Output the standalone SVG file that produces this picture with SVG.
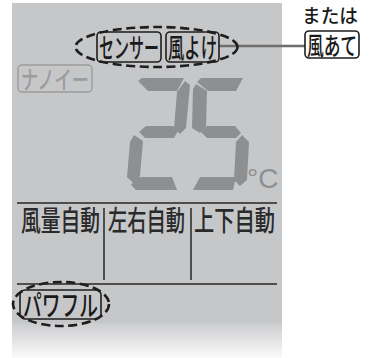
<svg xmlns="http://www.w3.org/2000/svg" width="370" height="358" viewBox="0 0 370 358">
<defs>
<linearGradient id="fade" x1="0" y1="0" x2="0" y2="1">
<stop offset="0" stop-color="#cbccce"/>
<stop offset="1" stop-color="#fbfbfb"/>
</linearGradient>
</defs>
<style>
.jp{font-family:"Noto Sans CJK JP","Noto Sans",sans-serif;font-weight:500;}
.box{fill:none;stroke:#1e1e1e;stroke-width:1.6;}
.lbl{fill:#1a1a1a;}
.dim{fill:none;stroke:#9c9c9c;stroke-width:1.4;}
.dimt{fill:#9c9c9c;}
.dash{fill:none;stroke:#1e1e1e;stroke-width:2.6;stroke-dasharray:9 4.5;}
.seg{fill:#8e8f91;}
.rule{stroke:#4e4e4e;stroke-width:2;}
.row{fill:#2a2a2a;font-size:28px;}
</style>
<rect x="12" y="3" width="270" height="320" fill="#c6c7c9"/>
<rect x="12" y="323" width="270" height="35" fill="url(#fade)"/>

<g id="connectors">
<line x1="219" y1="46" x2="305" y2="46" stroke="#6e6e6e" stroke-width="2.5"/>
</g>

<g id="sensor-group">
<ellipse class="dash" cx="156.5" cy="47" rx="81" ry="20"/>
</g>
<g id="sensor">
<rect class="box" x="97" y="32" width="64" height="30" rx="4"/>
<text class="jp lbl" x="99" y="58" font-size="27" textLength="60" lengthAdjust="spacingAndGlyphs">センサー</text>
</g>
<g id="kazeyoke">
<rect class="box" x="166" y="32" width="53" height="30" rx="4"/>
<text class="jp lbl" x="168" y="58" font-size="27" textLength="49" lengthAdjust="spacingAndGlyphs">風よけ</text>
</g>
<g id="matawa">
<text class="jp lbl" x="302" y="23" font-size="19" font-weight="400" textLength="56" lengthAdjust="spacingAndGlyphs">または</text>
</g>
<g id="kazeate">
<rect class="box" x="305" y="31" width="54" height="27" rx="4"/>
<text class="jp lbl" x="307" y="55" font-size="25" textLength="50" lengthAdjust="spacingAndGlyphs">風あて</text>
</g>
<g id="nanoe">
<rect class="dim" x="18" y="65" width="74" height="27" rx="4"/>
<text class="jp dimt" x="21" y="89" font-size="25" textLength="68" lengthAdjust="spacingAndGlyphs">ナノイー</text>
</g>

<g id="temperature">
<polygon class="seg" points="138,81 142,78 184,78 177,91 148,91"/>
<polygon class="seg" points="185,81 190,85 186,128 180,134 174,128 177,92"/>
<polygon class="seg" points="139,132 146,126 173,126 178,131 174,138 145,138"/>
<polygon class="seg" points="134,135 143,141 140,176 133,183 127,177 130,142"/>
<polygon class="seg" points="131,185 137,177 172,177 177,190 136,190"/>
<polygon class="seg" points="197,82 201,78 243,78 236,91 208,91"/>
<polygon class="seg" points="196,84 207,91 206,127 200,133 192,128 193,89"/>
<polygon class="seg" points="201,132 207,126 235,126 241,133 236,138 207,138"/>
<polygon class="seg" points="242,135 249,142 247,180 240,186 234,180 236,142"/>
<polygon class="seg" points="193,190 200,177 236,177 233,190"/>
<text x="247" y="188" font-family="Liberation Sans, Arial, sans-serif" font-size="28" fill="#8e8f91">°C</text>
</g>

<g id="rules">
<line class="rule" x1="17" y1="203" x2="277" y2="203"/>
<line class="rule" x1="17" y1="284" x2="277" y2="284"/>
<line class="rule" x1="104" y1="208" x2="104" y2="280"/>
<line class="rule" x1="191" y1="208" x2="191" y2="280"/>
</g>
<g id="fan-auto">
<text class="jp row" x="21" y="231" textLength="79" lengthAdjust="spacingAndGlyphs">風量自動</text>
</g>
<g id="lr-auto">
<text class="jp row" x="108" y="231" textLength="77" lengthAdjust="spacingAndGlyphs">左右自動</text>
</g>
<g id="ud-auto">
<text class="jp row" x="194" y="231" textLength="81" lengthAdjust="spacingAndGlyphs">上下自動</text>
</g>

<g id="powerful">
<ellipse class="dash" cx="61" cy="304" rx="48" ry="22"/>
<rect class="box" x="20" y="290" width="81" height="29" rx="5"/>
<text class="jp lbl" x="23" y="316" font-size="28" textLength="75" lengthAdjust="spacingAndGlyphs">パワフル</text>
</g>
</svg>
